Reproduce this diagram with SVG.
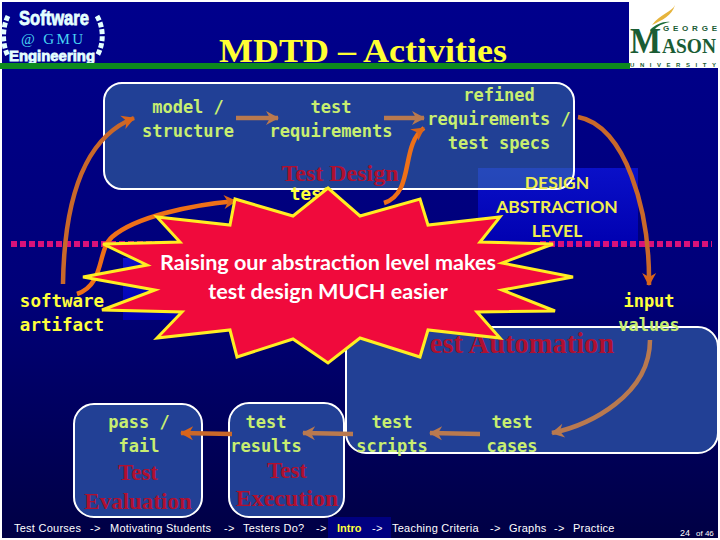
<svg xmlns="http://www.w3.org/2000/svg" width="720" height="540" viewBox="0 0 720 540">
<defs>
<linearGradient id="bg" x1="0" y1="0" x2="0" y2="1"><stop offset="0" stop-color="#00008c"/><stop offset="0.55" stop-color="#000078"/><stop offset="1" stop-color="#000044"/></linearGradient>
<linearGradient id="blue" x1="0" y1="0" x2="0" y2="1"><stop offset="0" stop-color="#0a10c8"/><stop offset="1" stop-color="#0000b0"/></linearGradient>
<marker id="a1" markerUnits="userSpaceOnUse" markerWidth="18" markerHeight="18" refX="13" refY="8" orient="auto"><path d="M1 1L14 8L1 15L5 8Z" fill="#b9794f"/></marker>
<marker id="a2" markerUnits="userSpaceOnUse" markerWidth="18" markerHeight="18" refX="13" refY="8" orient="auto"><path d="M1 1L14 8L1 15L5 8Z" fill="#d9641a"/></marker>
</defs>
<style>
.box{fill:#224095;stroke:#fff;stroke-width:2}
.g{font-family:"DejaVu Sans Mono","Liberation Mono",monospace;font-weight:700;font-size:17px;fill:#c8ee70;text-anchor:middle}
.y{font-family:"DejaVu Sans Mono","Liberation Mono",monospace;font-weight:700;font-size:17.5px;fill:#ffff3c;text-anchor:middle}
.r{font-family:"Liberation Serif",serif;font-weight:700;fill:#b01030;text-anchor:middle}
.lv{font-family:Lato,"Noto Sans",sans-serif;font-size:17.5px;font-weight:700;fill:#f0ee50;text-anchor:middle}
.c{font-family:Lato,"Noto Sans",sans-serif;font-size:21.6px;font-weight:700;fill:#fff;text-anchor:middle}
.f{font-family:"Liberation Sans",sans-serif;font-size:11px;fill:#fff;letter-spacing:.25px}
.dots{stroke:#d8127a;stroke-width:6;stroke-dasharray:6 3;fill:none}
.c1{fill:none;stroke:#b9794f;stroke-width:4.5;marker-end:url(#a1)}
.c2{fill:none;stroke:#c9682a;stroke-width:4.5;marker-end:url(#a2)}
.c3{fill:none;stroke:#ee7018;stroke-width:4.5;marker-end:url(#a2)}
.lg{font-family:"Liberation Sans",sans-serif;font-weight:700;fill:#e4ffff;stroke:#e4ffff;stroke-width:.8}
</style>
<rect width="720" height="540" fill="#fff"/>
<rect x="2" y="2" width="716" height="536" fill="url(#bg)"/>
<rect x="478" y="168" width="160" height="78" fill="url(#blue)"/>
<rect x="123" y="258" width="70" height="62" fill="url(#blue)"/>
<rect x="328" y="517" width="63" height="21" fill="#000080"/>
<line class="dots" x1="11" y1="244" x2="160" y2="244"/>
<line class="dots" x1="540" y1="244" x2="712" y2="244"/>

<g id="logo-gmu">
<path d="M8 16C2 28 2 44 8 56M97 16C104 28 104 44 97 56" fill="none" stroke="#e4ffff" stroke-width="5" stroke-dasharray="5 2"/>
<text class="lg" x="54" y="25" font-size="21" text-anchor="middle" textLength="70" lengthAdjust="spacingAndGlyphs">Software</text>
<text x="52" y="44" text-anchor="middle" font-family="Liberation Serif,serif" font-size="15" fill="#48d4f4" textLength="62" lengthAdjust="spacing">@ GMU</text>
<text class="lg" x="52" y="61" font-size="15" text-anchor="middle" textLength="86" lengthAdjust="spacingAndGlyphs">Engineering</text>
</g>
<g id="logo-mason">
<rect x="629" y="2" width="89" height="66" fill="#fff"/>
<path d="M675 5C672 12 660 14 652 25C662 20 672 16 675 5Z" fill="#e6b43c"/>
<path d="M650 30C656 24 664 21 670 22C660 24 654 28 652 34Z" fill="#1a6b38"/>
<text x="663" y="31" font-family="Liberation Sans,sans-serif" font-weight="700" font-size="8" fill="#1a5c34" textLength="54" lengthAdjust="spacing">GEORGE</text>
<text x="630" y="53" font-family="Liberation Serif,serif" font-weight="700" font-size="36" fill="#1a5c34" textLength="31" lengthAdjust="spacingAndGlyphs">M</text>
<text x="662" y="53" font-family="Liberation Serif,serif" font-weight="700" font-size="22" fill="#1a5c34" textLength="54" lengthAdjust="spacingAndGlyphs">ASON</text>
<text x="630" y="67" font-family="Liberation Sans,sans-serif" font-size="6" font-weight="700" fill="#1a5c34" textLength="86" lengthAdjust="spacing">UNIVERSITY</text>
</g>
<text x="363" y="62" text-anchor="middle" font-family="Liberation Serif,serif" font-size="33" font-weight="700" fill="#ffff33" textLength="288" lengthAdjust="spacingAndGlyphs">MDTD – Activities</text>
<rect x="0" y="63" width="630" height="6" fill="#0d8a1e"/>

<g id="test-design">
<rect class="box" x="104" y="83" width="470" height="106" rx="18" style="fill:#4a8eab;fill-opacity:.45"/>
<text class="g" x="188" y="113">model /</text><text class="g" x="188" y="137">structure</text>
<text class="g" x="331" y="113">test</text><text class="g" x="331" y="137">requirements</text>
<text class="g" x="499" y="101">refined</text><text class="g" x="499" y="125">requirements /</text><text class="g" x="499" y="149">test specs</text>
<text class="r" x="340" y="181" font-size="24">Test Design</text>
</g>
<g id="test-automation">
<rect class="box" x="346" y="327" width="372" height="126" rx="20"/>
<text class="r" x="522" y="353" font-size="28.5">est Automation</text>
<text class="g" x="392" y="428">test</text><text class="g" x="392" y="452">scripts</text>
<text class="g" x="512" y="428">test</text><text class="g" x="512" y="452">cases</text>
<text class="g" x="649" y="307" style="fill:#ffff3c">input</text><text class="g" x="649" y="331">values</text>
</g>
<g id="test-evaluation">
<rect class="box" x="74" y="404" width="128" height="113" rx="20"/>
<text class="g" x="139" y="428">pass /</text><text class="g" x="139" y="452">fail</text>
<text class="r" x="138" y="480" font-size="23">Test</text><text class="r" x="138" y="509" font-size="23">Evaluation</text>
</g>
<g id="test-execution">
<rect class="box" x="229" y="403" width="115" height="114" rx="20"/>
<text class="g" x="266" y="428">test</text><text class="g" x="266" y="452">results</text>
<text class="r" x="287" y="478" font-size="23">Test</text><text class="r" x="287" y="506" font-size="24">Execution</text>
</g>
<g id="artifact">
<text class="y" x="62" y="307">software</text><text class="y" x="62" y="331">artifact</text>
</g>
<g id="abstraction">
<text class="lv" x="557" y="189">DESIGN</text><text class="lv" x="557" y="213">ABSTRACTION</text><text class="lv" x="557" y="237">LEVEL</text>
</g>
<text class="y" x="311" y="200">test</text>

<g id="connectors">
<path class="c2" d="M63 284C64 215 78 140 134 118"/>
<path class="c1" d="M236 118L278 118"/>
<path class="c1" d="M384 118L424 118"/>
<path class="c3" d="M384 203C415 193 400 145 424 128"/>
<path class="c2" d="M578 117C625 125 650 210 649 285"/>
<path class="c3" d="M77 294C105 285 97 250 112 237C135 217 190 205 236 201"/>
<path class="c1" d="M650 340C650 395 590 425 552 433"/>
<path class="c1" d="M480 434L430 433"/>
<path class="c1" d="M353 434L303 433"/>
<path class="c2" d="M232 434L181 433"/>
</g>

<g id="callout">
<path d="M103 244L180 242L157 217L230 225L235 199L293 216L328 188L360 216L420 199L428 225L500 217L480 242L553 244L502 263L573 277L502 290L555 311L477 312L500 338L428 330L420 357L360 338L328 363L293 339L237 357L230 330L157 338L182 312L102 310L155 290L83 277L147 265Z" fill="#f00a3c" stroke="#ffee22" stroke-width="3"/>
<text class="c" x="328" y="270">Raising our abstraction level makes</text>
<text class="c" x="328" y="299">test design MUCH easier</text>
</g>

<text class="f" x="14" y="532">Test Courses</text><text class="f" x="90" y="532">-&gt;</text>
<text class="f" x="110" y="532">Motivating Students</text><text class="f" x="224" y="532">-&gt;</text>
<text class="f" x="243" y="532">Testers Do?</text><text class="f" x="316" y="532">-&gt;</text>
<text x="337" y="532" font-family="Liberation Sans,sans-serif" font-size="11" font-weight="700" fill="#ffff3c">Intro</text><text class="f" x="372" y="532">-&gt;</text>
<text class="f" x="392" y="532">Teaching Criteria</text><text class="f" x="490" y="532">-&gt;</text>
<text class="f" x="509" y="532">Graphs</text><text class="f" x="554" y="532">-&gt;</text>
<text class="f" x="573" y="532">Practice</text>
<text x="680" y="536" font-family="Liberation Sans,sans-serif" font-size="9" fill="#fff">24</text>
<text x="696" y="536" font-family="Liberation Sans,sans-serif" font-size="8" fill="#fff">of 46</text>
</svg>
